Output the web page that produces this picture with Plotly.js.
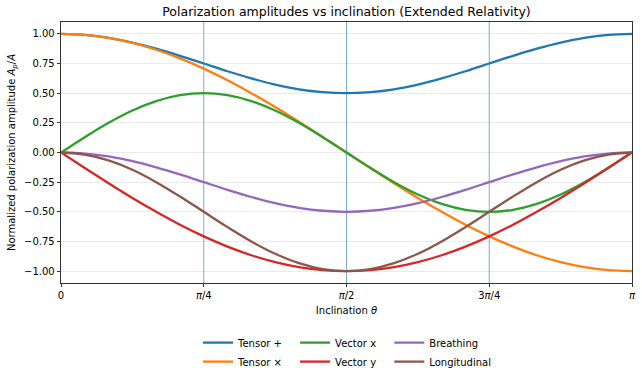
<!DOCTYPE html>
<html>
<head>
<meta charset="utf-8">
<script src="https://cdn.plot.ly/plotly-3.0.1.min.js"></script>
<style>
  html, body { margin: 0; padding: 0; background: #fff; }
  #chart { width: 642px; height: 372px; }
</style>
</head>
<body>
<div id="chart"></div>
<script>
// Inclination angle samples (radians), 0 .. pi in steps of pi/24
const theta = [0, 0.1309, 0.2618, 0.3927, 0.5236, 0.6545, 0.7854, 0.9163, 1.0472, 1.1781,
  1.3090, 1.4399, 1.5708, 1.7017, 1.8326, 1.9635, 2.0944, 2.2253, 2.3562, 2.4871,
  2.6180, 2.7489, 2.8798, 3.0107, 3.1416];

const tensorPlus = [1, 0.991, 0.967, 0.927, 0.875, 0.815, 0.75, 0.685, 0.625, 0.573, 0.533, 0.509, 0.5,
  0.509, 0.533, 0.573, 0.625, 0.685, 0.75, 0.815, 0.875, 0.927, 0.967, 0.991, 1];
const tensorCross = [1, 0.991, 0.966, 0.924, 0.866, 0.793, 0.707, 0.609, 0.5, 0.383, 0.259, 0.131, 0,
  -0.131, -0.259, -0.383, -0.5, -0.609, -0.707, -0.793, -0.866, -0.924, -0.966, -0.991, -1];
const vectorX = [0, 0.129, 0.25, 0.354, 0.433, 0.483, 0.5, 0.483, 0.433, 0.354, 0.25, 0.129, 0,
  -0.129, -0.25, -0.354, -0.433, -0.483, -0.5, -0.483, -0.433, -0.354, -0.25, -0.129, 0];
const vectorY = [0, -0.131, -0.259, -0.383, -0.5, -0.609, -0.707, -0.793, -0.866, -0.924, -0.966, -0.991, -1,
  -0.991, -0.966, -0.924, -0.866, -0.793, -0.707, -0.609, -0.5, -0.383, -0.259, -0.131, 0];
const breathing = [0, -0.009, -0.033, -0.073, -0.125, -0.185, -0.25, -0.315, -0.375, -0.427, -0.467, -0.491, -0.5,
  -0.491, -0.467, -0.427, -0.375, -0.315, -0.25, -0.185, -0.125, -0.073, -0.033, -0.009, 0];
const longitudinal = [0, -0.017, -0.067, -0.146, -0.25, -0.371, -0.5, -0.629, -0.75, -0.854, -0.933, -0.983, -1,
  -0.983, -0.933, -0.854, -0.75, -0.629, -0.5, -0.371, -0.25, -0.146, -0.067, -0.017, 0];

const seriesNames = ['Tensor +', 'Tensor \u00d7', 'Vector x', 'Vector y', 'Breathing', 'Longitudinal'];
const seriesValues = [tensorPlus, tensorCross, vectorX, vectorY, breathing, longitudinal];
const seriesColors = ['#1f77b4', '#ff7f0e', '#2ca02c', '#d62728', '#9467bd', '#8c564b'];
const seriesLegend = ['legend', 'legend', 'legend2', 'legend2', 'legend3', 'legend3'];

const xTickVals = [0, Math.PI / 4, Math.PI / 2, 3 * Math.PI / 4, Math.PI];
const xTickText = ['0', '<i>\u03c0</i>/4', '<i>\u03c0</i>/2', '3<i>\u03c0</i>/4', '<i>\u03c0</i>'];
const yTickVals = [-1, -0.75, -0.5, -0.25, 0, 0.25, 0.5, 0.75, 1];
const yTickText = ['\u22121.00', '\u22120.75', '\u22120.50', '\u22120.25', '0.00', '0.25', '0.50', '0.75', '1.00'];

// Reference angles marked with vertical guide lines
const guideAngles = [Math.PI / 4, Math.PI / 2, 3 * Math.PI / 4];

const traces = seriesNames.map((name, i) => ({
  x: theta,
  y: seriesValues[i],
  name: name,
  type: 'scatter',
  mode: 'lines',
  line: { color: seriesColors[i], width: 2.3, shape: 'spline', smoothing: 1 },
  legend: seriesLegend[i]
}));

const font = { family: 'DejaVu Sans, sans-serif', size: 10, color: '#000' };
const legendBase = {
  orientation: 'v', yref: 'container', yanchor: 'top', y: 0.118, xanchor: 'left',
  bgcolor: 'rgba(0,0,0,0)', font: { family: font.family, size: 10, color: '#000' },
  tracegroupgap: 0, itemwidth: 30
};

const layout = {
  width: 642, height: 372,
  margin: { l: 61, r: 10, t: 22, b: 89, autoexpand: false },
  paper_bgcolor: '#fff', plot_bgcolor: '#fff',
  font: font,
  title: {
    text: 'Polarization amplitudes vs inclination (Extended Relativity)',
    font: { family: font.family, size: 12.5, color: '#000' },
    x: 0.5, xref: 'paper', y: 0.968, yanchor: 'middle'
  },
  xaxis: {
    range: [0, Math.PI], automargin: false,
    tickvals: xTickVals, ticktext: xTickText,
    ticks: 'outside', ticklen: 3.5, tickwidth: 0.8, tickcolor: '#000',
    showgrid: false, zeroline: false,
    showline: true, linecolor: '#000', linewidth: 0.8, mirror: true,
    tickfont: { family: font.family, size: 10, color: '#000' },
    title: { text: 'Inclination <i>\u03b8</i>', font: { family: font.family, size: 10, color: '#000' }, standoff: 6 }
  },
  yaxis: {
    range: [-1.1, 1.1], automargin: false,
    tickvals: yTickVals, ticktext: yTickText,
    ticks: 'outside', ticklen: 3.5, tickwidth: 0.8, tickcolor: '#000',
    showgrid: true, gridcolor: 'rgba(0,0,0,0.1)', gridwidth: 0.8,
    zeroline: false,
    showline: true, linecolor: '#000', linewidth: 0.8, mirror: true,
    tickfont: { family: font.family, size: 10, color: '#000' },
    title: { text: 'Normalized polarization amplitude <i>A</i><sub><i>p</i></sub>/<i>A</i>', font: { family: font.family, size: 10, color: '#000' }, standoff: 6 }
  },
  shapes: guideAngles.map(a => ({
    type: 'line', xref: 'x', yref: 'paper', x0: a, x1: a, y0: 0, y1: 1,
    line: { color: 'rgba(31,119,180,0.6)', width: 1 }, layer: 'below'
  })),
  legend: Object.assign({}, legendBase, { x: 0.24 }),
  legend2: Object.assign({}, legendBase, { x: 0.41 }),
  legend3: Object.assign({}, legendBase, { x: 0.575 })
};

Plotly.newPlot('chart', traces, layout, { displayModeBar: false, staticPlot: true });
</script>
</body>
</html>
